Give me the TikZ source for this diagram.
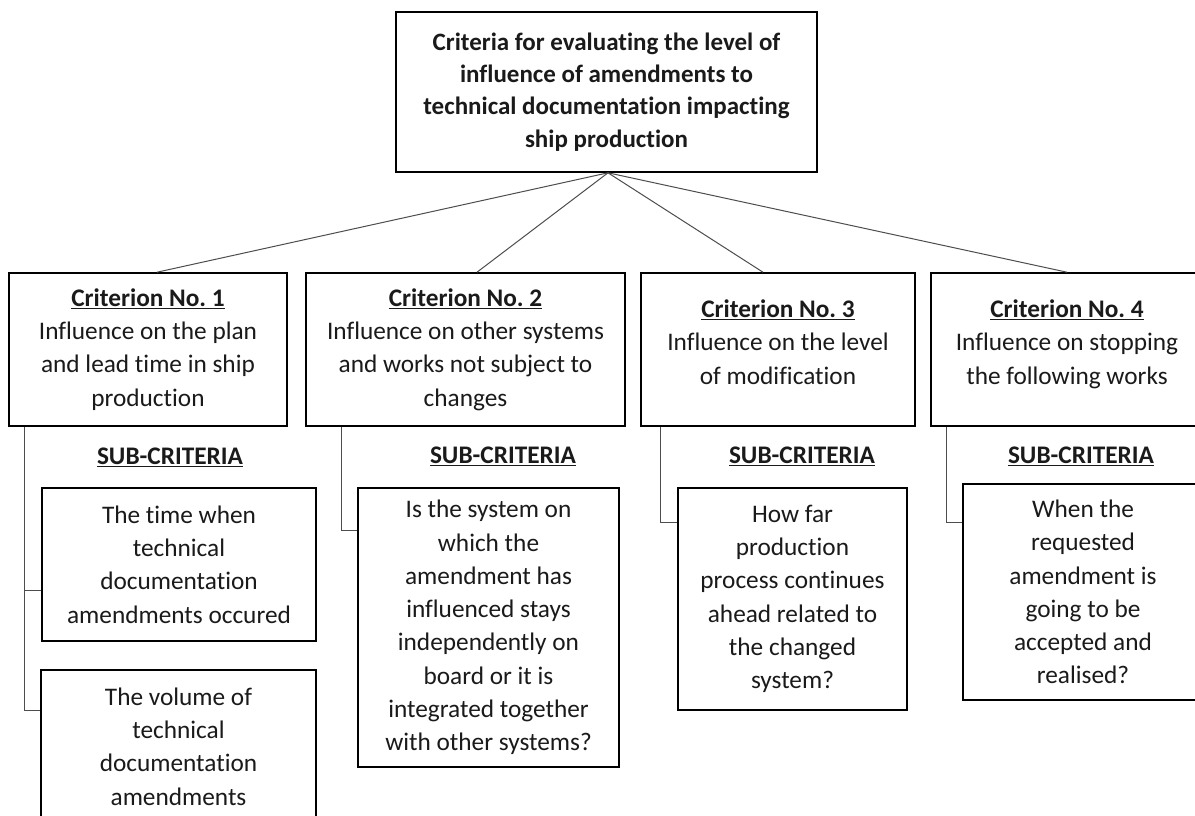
\documentclass[tikz,border=0pt]{standalone}
\usepackage{fontspec}
\setmainfont{Carlito}[Ligatures=CommonOff]
\definecolor{ink}{HTML}{1A1A1A}
\definecolor{wire}{HTML}{4D4D4D}
\newcommand{\crit}[1]{\underline{\textbf{#1}}}
\newcommand{\liftup}{\rule[-15pt]{0pt}{0pt}}
\frenchspacing
\begin{document}
\begin{tikzpicture}[x=1pt,y=-1pt,
  box/.style={draw=black, line width=1.6pt, inner sep=0pt, align=center,
    text=ink, font=\fontsize{25.3pt}{33.3pt}\selectfont},
  critbox/.style={box, minimum height=153pt},
  subbox/.style={box},
  head/.style={inner sep=0pt, text=ink, font=\fontsize{25.3pt}{33.3pt}\selectfont},
  tree/.style={draw=wire, line width=1pt},
  link/.style={draw=wire, line width=1pt}]
\useasboundingbox (0,0) rectangle (1195,815);
\fill[white] (0,0) rectangle (1195,815);
\clip (0,0) rectangle (1195,815);

% root
\node[box, minimum width=421pt, minimum height=160pt,
      font=\fontsize{25pt}{32.3pt}\selectfont\bfseries] (top) at (606.5,92)
  {Criteria for evaluating the level of\\influence of amendments to\\technical documentation impacting\\ship production};

% criteria
\node[critbox, minimum width=278pt] (c1) at (148,349.5)
  {\crit{Criterion No. 1}\\Influence on the plan\\and lead time in ship\\production};
\node[critbox, minimum width=319pt] (c2) at (465.5,349.5)
  {\crit{Criterion No. 2}\\Influence on other systems\\and works not subject to\\changes};
\node[critbox, minimum width=274pt] (c3) at (778,349.5)
  {\crit{Criterion No. 3}\\Influence on the level\\of modification\liftup};
\node[critbox, minimum width=272pt] (c4) at (1067,349.5)
  {\crit{Criterion No. 4}\\Influence on stopping\\the following works\liftup};

% headings
\node[head] (h1) at (170,457) {\crit{SUB-CRITERIA}};
\node[head] (h2) at (503,456) {\crit{SUB-CRITERIA}};
\node[head] (h3) at (802,456) {\crit{SUB-CRITERIA}};
\node[head] (h4) at (1081,456) {\crit{SUB-CRITERIA}};

% sub-criteria
\node[subbox, minimum width=274pt, minimum height=153pt] (s1a) at (179,564.5)
  {The time when\\technical\\documentation\\amendments occured};
\node[subbox, minimum width=275pt, minimum height=153pt] (s1b) at (178.5,746.5)
  {The volume of\\technical\\documentation\\amendments};
\node[subbox, minimum width=261pt, minimum height=279pt] (s2) at (488.5,627.5)
  {Is the system on\\which the\\amendment has\\influenced stays\\independently on\\board or it is\\integrated together\\with other systems?};
\node[subbox, minimum width=229pt, minimum height=222pt] (s3) at (792.5,599)
  {How far\\production\\process continues\\ahead related to\\the changed\\system?};
\node[subbox, minimum width=240pt, minimum height=216pt] (s4) at (1083,592)
  {When the\\requested\\amendment is\\going to be\\accepted and\\realised?};

% root to criteria
\draw[tree] ([xshift=1.5pt]top.south) -- ([xshift=9pt]c1.north);
\draw[tree] ([xshift=1.5pt]top.south) -- ([xshift=11.5pt]c2.north);
\draw[tree] ([xshift=1.5pt]top.south) -- ([xshift=-15pt]c3.north);
\draw[tree] ([xshift=1.5pt]top.south) -- (c4.north);

% criteria to sub-criteria
\draw[link] ([xshift=16pt]c1.south west) |- ([yshift=-103pt]s1a.north west);
\draw[link] ([xshift=16pt]c1.south west) |- ([yshift=-41pt]s1b.north west);
\draw[link] ([xshift=36pt]c2.south west) |- ([yshift=-43pt]s2.north west);
\draw[link] ([xshift=20pt]c3.south west) |- ([yshift=-35pt]s3.north west);
\draw[link] ([xshift=16pt]c4.south west) |- ([yshift=-39pt]s4.north west);
\end{tikzpicture}
\end{document}
